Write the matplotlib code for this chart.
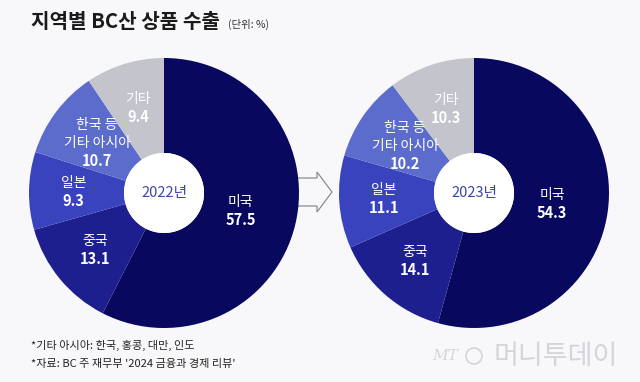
import numpy as np
import matplotlib.pyplot as plt
from matplotlib.patches import Circle, Polygon

plt.rcParams['font.family'] = ['Noto Sans CJK KR', 'DejaVu Sans']

# 데이터 (단위: %)
categories = ["미국", "중국", "일본", "한국 등\n기타 아시아", "기타"]
share_2022 = [57.5, 13.1, 9.3, 10.7, 9.4]
share_2023 = [54.3, 14.1, 11.1, 10.2, 10.3]
years = ["2022년", "2023년"]

colors = ['#08085e', '#1d1f8e', '#3843bd', '#5b6ccd', '#c3c4cc']
# 라벨 위치 (반지름 비율)
label_frac = [0.585, 0.665, 0.67, 0.62, 0.655]

W, H = 640, 382
bg = '#f8f8fb'
LINE = 18  # 라벨 줄 간격(px)

fig = plt.figure(figsize=(6.4, 3.82), dpi=100, facecolor=bg)
ax = fig.add_axes([0, 0, 1, 1])
ax.set_facecolor(bg)

R_OUT, R_IN = 135, 40
centers = [(164, H - 193), (474, H - 193)]

for values, year, (cx, cy) in zip([share_2022, share_2023], years, centers):
    wedges, _ = ax.pie(values, colors=colors, startangle=90, counterclock=False,
                       radius=R_OUT, center=(cx, cy), frame=True,
                       wedgeprops=dict(width=R_OUT - R_IN, edgecolor='none', zorder=2))
    ax.add_patch(Circle((cx, cy), R_IN, facecolor='white', edgecolor='none', zorder=3))
    ax.text(cx, cy, year, ha='center', va='center', fontsize=10.5,
            color='#3b46a6', zorder=4)
    for w, cat, val, frac in zip(wedges, categories, values, label_frac):
        ang = np.deg2rad((w.theta1 + w.theta2) / 2)
        lx = cx + R_OUT * frac * np.cos(ang)
        ly = cy + R_OUT * frac * np.sin(ang)
        lines = cat.split("\n")
        n = len(lines) + 1
        top = ly + (n - 1) / 2 * LINE
        for k, t in enumerate(lines):
            ax.text(lx, top - k * LINE, t, ha='center', va='center', fontsize=10,
                    color='white', zorder=4)
        ax.text(lx, top - len(lines) * LINE, f"{val:.1f}", ha='center', va='center',
                fontsize=10.5, fontweight='bold', color='white', zorder=4)

# 가운데 화살표
arrow = Polygon([(296, H - 178), (317, H - 178), (317, H - 172), (332, H - 192),
                 (317, H - 212), (317, H - 206), (296, H - 206)],
                closed=True, facecolor=bg, edgecolor='#8a8a8a', linewidth=0.9, zorder=1)
ax.add_patch(arrow)

# 제목
ax.text(31, H - 22, "지역별 BC산 상품 수출", ha='left', va='center', fontsize=14.5,
        fontweight='bold', color='#1a1a1a')
ax.text(228, H - 24, "(단위: %)", ha='left', va='center', fontsize=7.5, color='#333333')

# 주석
ax.text(31, H - 345, "*기타 아시아: 한국, 홍콩, 대만, 인도", ha='left', va='center',
        fontsize=8, color='#222222')
ax.text(31, H - 364, "*자료: BC 주 재무부 '2024 금융과 경제 리뷰'", ha='left', va='center',
        fontsize=8, color='#222222')

# 워터마크
ax.text(432, H - 356, "MT", ha='left', va='center', fontsize=11, style='italic',
        color='#d4d4da', family='DejaVu Serif')
ax.add_patch(Circle((474, H - 356), 8, facecolor='none', edgecolor='#d4d4da', linewidth=1.2))
ax.text(494, H - 356, "머니투데이", ha='left', va='center', fontsize=19.5,
        fontweight='light', color='#d4d4da')

ax.set_xlim(0, W)
ax.set_ylim(0, H)
ax.set_aspect('auto')
ax.axis('off')

fig.savefig('out.png', dpi=100, facecolor=bg)
